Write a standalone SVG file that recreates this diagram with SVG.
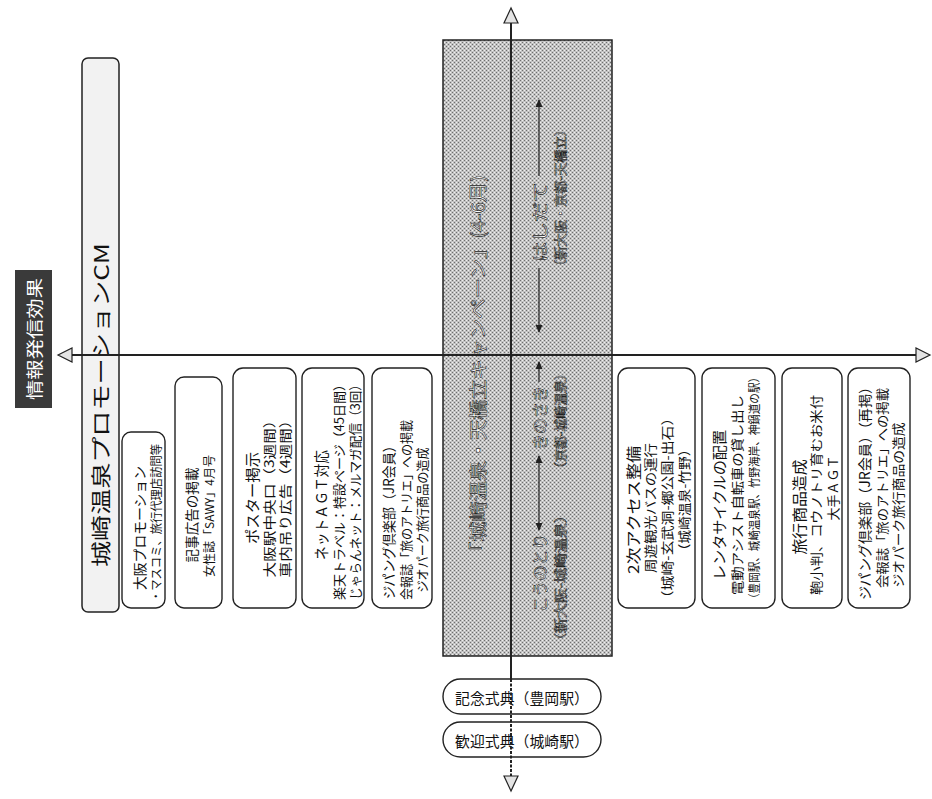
<svg xmlns="http://www.w3.org/2000/svg" width="932" height="799" viewBox="0 0 932 799">
<defs>
<style>
.t{font-family:"Noto Sans CJK JP","Noto Sans",sans-serif;fill:#111;}
.box{fill:#fff;stroke:#222;stroke-width:1.4;}
.w{font-family:"Noto Sans CJK JP","Noto Sans",sans-serif;fill:#fff;stroke:#222;stroke-width:0.6;}
.ax{stroke:#222;stroke-width:2;fill:none;}
.ah{fill:#e4e4e4;stroke:#222;stroke-width:1.2;}
.ar{stroke:#222;stroke-width:1.2;fill:none;}
</style>
<pattern id="dots" width="4" height="4" patternUnits="userSpaceOnUse">
<rect width="4" height="4" fill="#c2c2c2"/>
<rect x="0" y="0" width="1" height="1" fill="#6e6e6e"/>
<rect x="2" y="2" width="1" height="1" fill="#6e6e6e"/>
<rect x="2" y="0" width="1" height="1" fill="#f0f0f0"/>
<rect x="0" y="2" width="1" height="1" fill="#f0f0f0"/>
</pattern>
<marker id="m" markerWidth="8" markerHeight="8" refX="7" refY="4" orient="auto" markerUnits="userSpaceOnUse"><path d="M0,0.5 L8,4 L0,7.5 z" fill="#222"/></marker>
<marker id="ms" markerWidth="8" markerHeight="8" refX="1" refY="4" orient="auto" markerUnits="userSpaceOnUse"><path d="M8,0.5 L0,4 L8,7.5 z" fill="#222"/></marker>
</defs>
<rect width="932" height="799" fill="#fff"/>

<g id="label-effect">
<rect x="15" y="270" width="37" height="138" fill="#3a3a3a"/>
<text class="t" x="33" y="339" transform="rotate(-90 33 339)" text-anchor="middle" dominant-baseline="central" font-size="17" style="fill:#fff" textLength="122" lengthAdjust="spacingAndGlyphs">情報発信効果</text>
</g>

<g id="cm">
<rect x="82" y="58" width="37" height="554" rx="6" fill="#f2f2f2" stroke="#222" stroke-width="1.5"/>
<text class="t" x="100" y="567" transform="rotate(-90 100 567)" text-anchor="start" dominant-baseline="central" font-size="20" textLength="324" lengthAdjust="spacingAndGlyphs">城崎温泉プロモーションCM</text>
</g>

<g id="osaka-promo">
<rect class="box" x="122" y="432" width="43" height="176" rx="9"/>
<text class="t" x="139" y="528" transform="rotate(-90 139 528)" text-anchor="middle" dominant-baseline="central" font-size="14" textLength="124" lengthAdjust="spacingAndGlyphs">大阪プロモーション</text>
<text class="t" x="155" y="523" transform="rotate(-90 155 523)" text-anchor="middle" dominant-baseline="central" font-size="12" textLength="158" lengthAdjust="spacingAndGlyphs">・マスコミ、旅行代理店訪問等</text>
</g>

<g id="article-ad">
<rect class="box" x="175" y="377" width="47" height="231" rx="9"/>
<text class="t" x="191" y="515" transform="rotate(-90 191 515)" text-anchor="middle" dominant-baseline="central" font-size="14" textLength="95" lengthAdjust="spacingAndGlyphs">記事広告の掲載</text>
<text class="t" x="208" y="516" transform="rotate(-90 208 516)" text-anchor="middle" dominant-baseline="central" font-size="12" textLength="122" lengthAdjust="spacingAndGlyphs">女性誌「SAWY」4月号</text>
</g>

<g id="poster">
<rect class="box" x="233" y="368" width="63" height="240" rx="10"/>
<text class="t" x="251" y="498" transform="rotate(-90 251 498)" text-anchor="middle" dominant-baseline="central" font-size="15" textLength="92" lengthAdjust="spacingAndGlyphs">ポスター掲示</text>
<text class="t" x="268" y="495" transform="rotate(-90 268 495)" text-anchor="middle" dominant-baseline="central" font-size="13" textLength="165" lengthAdjust="spacingAndGlyphs">大阪駅中央口（3週間）</text>
<text class="t" x="284" y="495" transform="rotate(-90 284 495)" text-anchor="middle" dominant-baseline="central" font-size="13" textLength="165" lengthAdjust="spacingAndGlyphs">車内吊り広告（4週間）</text>
</g>

<g id="net-agt">
<rect class="box" x="302" y="368" width="62" height="240" rx="10"/>
<text class="t" x="320" y="505" transform="rotate(-90 320 505)" text-anchor="middle" dominant-baseline="central" font-size="15" textLength="110" lengthAdjust="spacingAndGlyphs">ネットＡＧＴ対応</text>
<text class="t" x="338" y="489" transform="rotate(-90 338 489)" text-anchor="middle" dominant-baseline="central" font-size="13" textLength="222" lengthAdjust="spacingAndGlyphs">楽天トラベル：特設ページ（45日間）</text>
<text class="t" x="354" y="489" transform="rotate(-90 354 489)" text-anchor="middle" dominant-baseline="central" font-size="13" textLength="222" lengthAdjust="spacingAndGlyphs">じゃらんネット：メルマガ配信（3回）</text>
</g>

<g id="zipangu">
<rect class="box" x="372" y="368" width="60" height="240" rx="10"/>
<text class="t" x="388" y="519" transform="rotate(-90 388 519)" text-anchor="middle" dominant-baseline="central" font-size="14" textLength="160" lengthAdjust="spacingAndGlyphs">ジパング倶楽部（JR会員）</text>
<text class="t" x="405" y="510" transform="rotate(-90 405 510)" text-anchor="middle" dominant-baseline="central" font-size="13" textLength="180" lengthAdjust="spacingAndGlyphs">会報誌「旅のアトリエ」への掲載</text>
<text class="t" x="421" y="520" transform="rotate(-90 421 520)" text-anchor="middle" dominant-baseline="central" font-size="13" textLength="145" lengthAdjust="spacingAndGlyphs">ジオパーク旅行商品の造成</text>
</g>

<g id="campaign">
<rect x="443" y="40" width="169" height="616" fill="url(#dots)" stroke="#222" stroke-width="1.5"/>
<text class="w" x="477" y="562" transform="rotate(-90 477 562)" text-anchor="start" dominant-baseline="central" font-size="18" textLength="387" lengthAdjust="spacingAndGlyphs">「城崎温泉・天橋立キャンペーン」(4-6月)</text>
<text class="w" x="539" y="612" transform="rotate(-90 539 612)" text-anchor="start" dominant-baseline="central" font-size="16" textLength="78" lengthAdjust="spacingAndGlyphs">こうのとり</text>
<text class="w" x="539" y="450" transform="rotate(-90 539 450)" text-anchor="start" dominant-baseline="central" font-size="16" textLength="64" lengthAdjust="spacingAndGlyphs">きのさき</text>
<text class="w" x="539" y="262" transform="rotate(-90 539 262)" text-anchor="start" dominant-baseline="central" font-size="16" textLength="80" lengthAdjust="spacingAndGlyphs">はしだて</text>
<text class="w" x="559" y="648" transform="rotate(-90 559 648)" text-anchor="start" dominant-baseline="central" font-size="13" textLength="140" lengthAdjust="spacingAndGlyphs">（新大阪-城崎温泉）</text>
<text class="w" x="559" y="475" transform="rotate(-90 559 475)" text-anchor="start" dominant-baseline="central" font-size="13" textLength="108" lengthAdjust="spacingAndGlyphs">（京都-城崎温泉）</text>
<text class="w" x="559" y="273" transform="rotate(-90 559 273)" text-anchor="start" dominant-baseline="central" font-size="13" textLength="150" lengthAdjust="spacingAndGlyphs">（新大阪・京都-天橋立）</text>
</g>

<g id="secondary-access">
<rect class="box" x="618" y="368" width="77" height="240" rx="10"/>
<text class="t" x="632" y="510" transform="rotate(-90 632 510)" text-anchor="middle" dominant-baseline="central" font-size="15" textLength="128" lengthAdjust="spacingAndGlyphs">2次アクセス整備</text>
<text class="t" x="649" y="508" transform="rotate(-90 649 508)" text-anchor="middle" dominant-baseline="central" font-size="13" textLength="130" lengthAdjust="spacingAndGlyphs">周遊観光バスの運行</text>
<text class="t" x="666" y="508" transform="rotate(-90 666 508)" text-anchor="middle" dominant-baseline="central" font-size="13" textLength="195" lengthAdjust="spacingAndGlyphs">（城崎-玄武洞-郷公園-出石）</text>
<text class="t" x="683" y="500" transform="rotate(-90 683 500)" text-anchor="middle" dominant-baseline="central" font-size="13" textLength="115" lengthAdjust="spacingAndGlyphs">（城崎温泉-竹野）</text>
</g>

<g id="rent-cycle">
<rect class="box" x="702" y="368" width="73" height="240" rx="10"/>
<text class="t" x="718" y="505" transform="rotate(-90 718 505)" text-anchor="middle" dominant-baseline="central" font-size="15" textLength="150" lengthAdjust="spacingAndGlyphs">レンタサイクルの配置</text>
<text class="t" x="736" y="495" transform="rotate(-90 736 495)" text-anchor="middle" dominant-baseline="central" font-size="13" textLength="200" lengthAdjust="spacingAndGlyphs">電動アシスト自転車の貸し出し</text>
<text class="t" x="753" y="488" transform="rotate(-90 753 488)" text-anchor="middle" dominant-baseline="central" font-size="12" textLength="232" lengthAdjust="spacingAndGlyphs">（豊岡駅、城崎温泉駅、竹野海岸、神鍋道の駅）</text>
</g>

<g id="travel-product">
<rect class="box" x="782" y="368" width="60" height="240" rx="10"/>
<text class="t" x="798" y="507" transform="rotate(-90 798 507)" text-anchor="middle" dominant-baseline="central" font-size="15" textLength="95" lengthAdjust="spacingAndGlyphs">旅行商品造成</text>
<text class="t" x="815" y="495" transform="rotate(-90 815 495)" text-anchor="middle" dominant-baseline="central" font-size="13" textLength="200" lengthAdjust="spacingAndGlyphs">鞄小判、コウノトリ育むお米付</text>
<text class="t" x="832" y="488" transform="rotate(-90 832 488)" text-anchor="middle" dominant-baseline="central" font-size="13" textLength="65" lengthAdjust="spacingAndGlyphs">大手ＡＧＴ</text>
</g>

<g id="zipangu-repost">
<rect class="box" x="848" y="368" width="62" height="240" rx="10"/>
<text class="t" x="864" y="490" transform="rotate(-90 864 490)" text-anchor="middle" dominant-baseline="central" font-size="14" textLength="220" lengthAdjust="spacingAndGlyphs">ジパング倶楽部（JR会員）（再掲）</text>
<text class="t" x="881" y="488" transform="rotate(-90 881 488)" text-anchor="middle" dominant-baseline="central" font-size="13" textLength="200" lengthAdjust="spacingAndGlyphs">会報誌「旅のアトリエ」への掲載</text>
<text class="t" x="897" y="505" transform="rotate(-90 897 505)" text-anchor="middle" dominant-baseline="central" font-size="13" textLength="165" lengthAdjust="spacingAndGlyphs">ジオパーク旅行商品の造成</text>
</g>

<g id="connectors">
<line class="ax" x1="72" y1="355" x2="916" y2="355" stroke-width="1.6"/>
<line class="ax" x1="511" y1="23" x2="511" y2="679"/>
<line class="ax" x1="511" y1="679" x2="511" y2="776" stroke-dasharray="3 1.5"/>
<polygon class="ah" points="58,355 72,348 72,362"/>
<polygon class="ah" points="930,355 916,348 916,362"/>
<polygon class="ah" points="511,8 504,23 518,23"/>
<polygon class="ah" points="511,791 504,776 518,776"/>
<line class="ar" x1="539" y1="530" x2="539" y2="456" marker-start="url(#ms)" marker-end="url(#m)"/>
<line class="ar" x1="539" y1="382" x2="539" y2="362" marker-end="url(#m)"/>
<line class="ar" x1="539" y1="268" x2="539" y2="332" marker-end="url(#m)"/>
<line class="ar" x1="539" y1="176" x2="539" y2="100" marker-end="url(#m)"/>
</g>

<g id="ceremony-toyooka">
<rect class="box" x="443" y="679" width="158" height="35" rx="17.5"/>
<text class="t" x="522" y="697" text-anchor="middle" dominant-baseline="central" font-size="15" textLength="134" lengthAdjust="spacingAndGlyphs">記念式典（豊岡駅）</text>
</g>
<g id="ceremony-kinosaki">
<rect class="box" x="443" y="722" width="158" height="35" rx="17.5"/>
<text class="t" x="522" y="740" text-anchor="middle" dominant-baseline="central" font-size="15" textLength="134" lengthAdjust="spacingAndGlyphs">歓迎式典（城崎駅）</text>
</g>
<line x1="511" y1="679" x2="511" y2="757" stroke="#222" stroke-width="2" stroke-dasharray="3 1.5"/>
</svg>
